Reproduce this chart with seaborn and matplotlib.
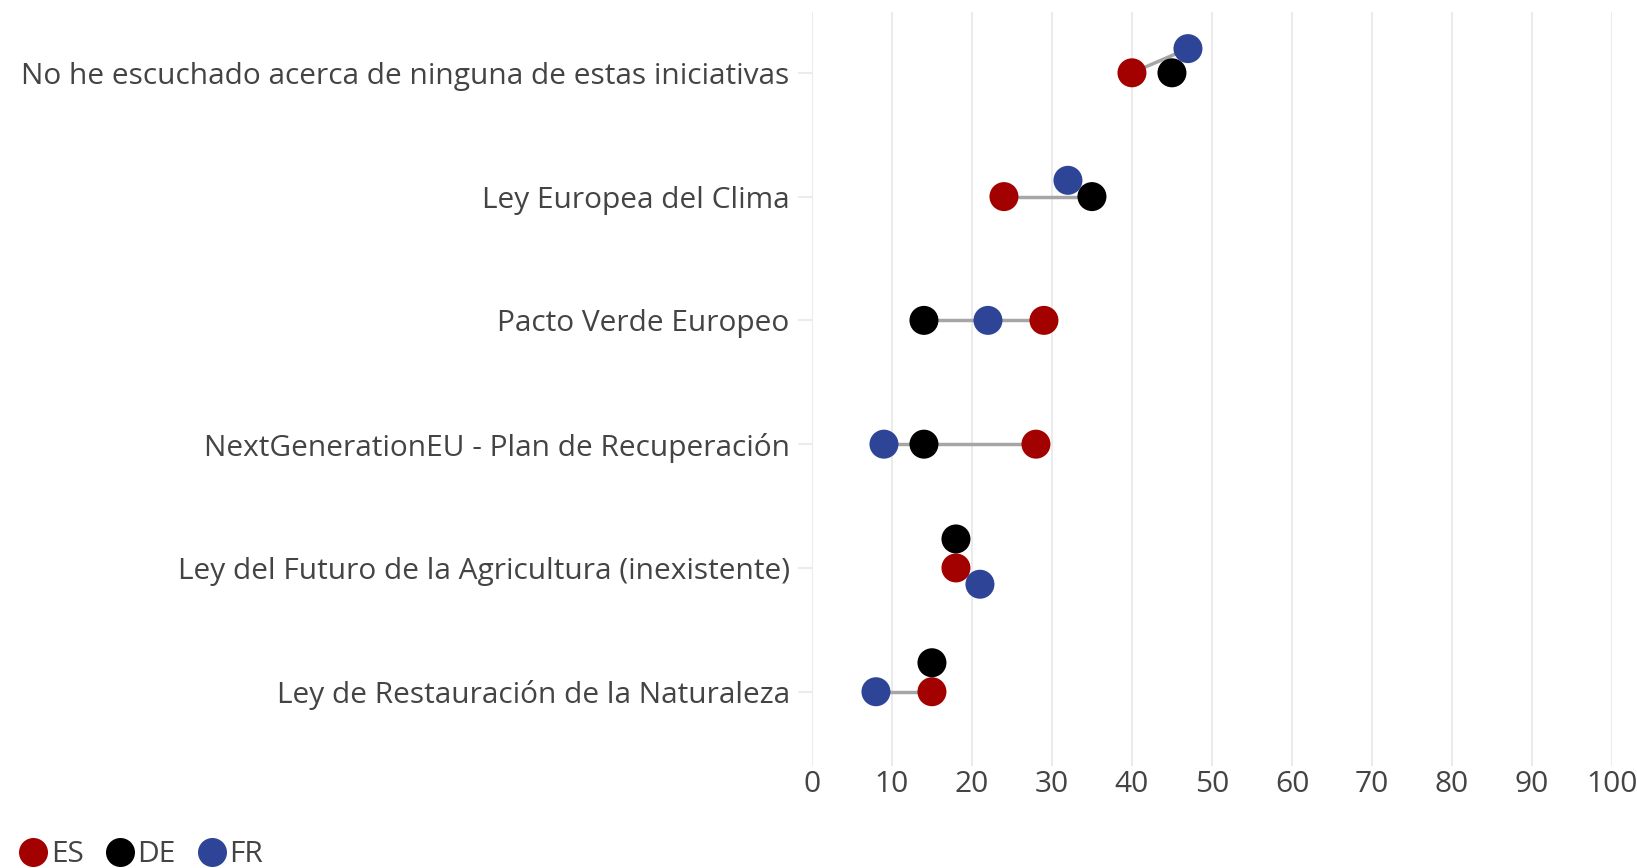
import numpy as np
import pandas as pd
import matplotlib
matplotlib.use("Agg")
import matplotlib.pyplot as plt
import seaborn as sns

# datos (porcentaje)
categorias = [
    "No he escuchado acerca de ninguna de estas iniciativas",
    "Ley Europea del Clima",
    "Pacto Verde Europeo",
    "NextGenerationEU - Plan de Recuperación",
    "Ley del Futuro de la Agricultura (inexistente)",
    "Ley de Restauración de la Naturaleza",
]
paises = ["ES", "DE", "FR"]
valores_es = [40, 24, 29, 28, 18, 15]
valores_de = [45, 35, 14, 14, 18, 15]
valores_fr = [47, 32, 22, 9, 21, 8]
colores = {"ES": "#a30000", "DE": "#000000", "FR": "#2e4497"}
ticks_x = list(range(0, 101, 10))

sns.set_theme(style="white")
plt.rcParams["font.family"] = ["Open Sans", "DejaVu Sans"]
texto = "#444444"
tam = 21.5

df = pd.DataFrame({
    "categoria": np.repeat(categorias, len(paises)),
    "fila": np.repeat(np.arange(len(categorias)), len(paises)),
    "pais": paises * len(categorias),
    "valor": np.ravel(np.column_stack([valores_es, valores_de, valores_fr])),
})

fig = plt.figure(figsize=(16.37, 8.68), dpi=100)
ax = fig.add_axes([0.496, 0.1175, 0.4887, 0.8685])
ax.set_xlim(0, 100)
ax.set_ylim(len(categorias) - 0.4, -0.49)

# separacion vertical tipo "beeswarm" para puntos que se solapan
diam = 29.0
bbox = ax.get_window_extent()
px_x = bbox.width / 100.0
px_y = bbox.height / (len(categorias) - 0.4 + 0.49)

desp = []
for fila in range(len(categorias)):
    sub = df[df["fila"] == fila]
    colocados = []
    for _, r in sub.iterrows():
        x = r["valor"] * px_x
        cands = [0.0]
        for (xp, yp) in colocados:
            dx = abs(x - xp)
            if dx < diam:
                h = np.sqrt(diam ** 2 - dx ** 2)
                cands += [yp - h, yp + h]
        ok = [c for c in cands
              if all(np.hypot(x - xp, c - yp) >= diam - 1e-6 for xp, yp in colocados)]
        ok.sort(key=lambda c: (round(abs(c), 6), c))
        dy = ok[0]
        colocados.append((x, dy))
        desp.append(dy / px_y)
df["y"] = df["fila"] + np.array(desp)

# lineas de conexion entre el minimo y el maximo
for fila in range(len(categorias)):
    sub = df[df["fila"] == fila]
    a = sub.loc[sub["valor"].idxmin()]
    b = sub.loc[sub["valor"].idxmax()]
    ax.plot([a["valor"], b["valor"]], [a["y"], b["y"]], color="#a6a6a6",
            lw=2.5, zorder=1, solid_capstyle="butt")

sns.scatterplot(data=df, x="valor", y="y", hue="pais", hue_order=paises,
                palette=colores, s=(diam * 72 / 100) ** 2, linewidth=0,
                ax=ax, zorder=3)

ax.set_xticks(ticks_x)
ax.set_xticklabels([str(t) for t in ticks_x])
ax.set_yticks(range(len(categorias)))
ax.set_yticklabels(categorias)
ax.set_xlabel("")
ax.set_ylabel("")
ax.grid(axis="x", color="#ebebeb", lw=1.5)
ax.grid(axis="y", visible=False)
for s in ax.spines.values():
    s.set_visible(False)
ax.tick_params(axis="y", length=10, width=1.5, color="#ebebeb", pad=6,
               labelsize=tam, labelcolor=texto, left=True)
ax.tick_params(axis="x", length=0, pad=3, labelsize=tam, labelcolor=texto)

sns.move_legend(ax, "center left", bbox_to_anchor=(0.011, 13 / 868),
                bbox_transform=fig.transFigure, ncol=3, frameon=False,
                title=None, fontsize=tam, handlelength=1.0, handletextpad=0.1,
                columnspacing=0.7, borderaxespad=0, borderpad=0,
                markerscale=1.0, labelcolor=texto)

fig.savefig("out.png", dpi=100)
